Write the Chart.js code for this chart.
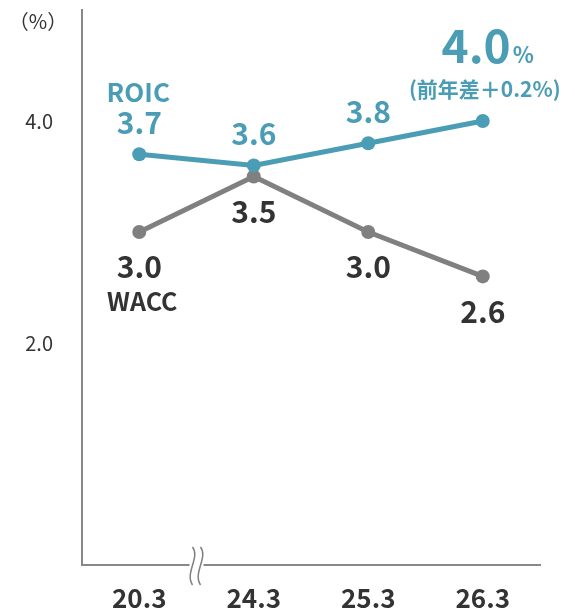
<!DOCTYPE html>
<html>
<head>
<meta charset="utf-8">
<script src="https://cdn.jsdelivr.net/npm/chart.js@4"></script>
<style>
  html, body { margin: 0; padding: 0; background: #fff; }
  #wrap { width: 575px; height: 608px; }
</style>
</head>
<body>
<div id="wrap"><canvas id="c"></canvas></div>
<script>
const FONT = '"Noto Sans CJK JP", "Noto Sans", sans-serif'
const TEAL = 'rgb(74, 157, 181)'
const GRAY = 'rgb(128, 128, 128)'
const DARK = '#333'

const categories = ['20.3', '24.3', '25.3', '26.3']
const roic = [3.7, 3.6, 3.8, 4.0]
const wacc = [3.0, 3.5, 3.0, 2.6]
const yTicks = [2.0, 4.0]
const roicName = 'ROIC'
const waccName = 'WACC'
const unitText = '（%）'
const diffText = '(前年差＋0.2%)'

// value labels, series names, headline and the axis break mark
const labelsPlugin = {
    id: 'labels',
    afterDraw(chart) {
        const ctx = chart.ctx
        const roicPts = chart.getDatasetMeta(0).data
        const waccPts = chart.getDatasetMeta(1).data
        ctx.save()
        ctx.textAlign = 'center'
        ctx.textBaseline = 'middle'

        // unit
        ctx.fillStyle = DARK
        ctx.font = '20px ' + FONT
        ctx.fillText(unitText, 38, 21)

        // ROIC values
        ctx.fillStyle = TEAL
        ctx.font = 'bold 30px ' + FONT
        roic.forEach((v, i) => {
            if (i === roic.length - 1) return
            ctx.fillText(v.toFixed(1), roicPts[i].x, roicPts[i].y - 32)
        })
        ctx.font = 'bold 26px ' + FONT
        ctx.fillText(roicName, roicPts[0].x - 1, roicPts[0].y - 62)

        // headline for the latest ROIC
        const last = roicPts[roic.length - 1]
        ctx.textBaseline = 'alphabetic'
        ctx.textAlign = 'right'
        ctx.font = 'bold 46px ' + FONT
        ctx.fillText(roic[roic.length - 1].toFixed(1), last.x + 28, last.y - 58)
        ctx.textAlign = 'left'
        ctx.font = 'bold 22px ' + FONT
        ctx.fillText('%', last.x + 30, last.y - 58)
        ctx.textAlign = 'center'
        ctx.textBaseline = 'middle'
        ctx.font = 'bold 21px ' + FONT
        ctx.fillText(diffText, last.x + 2, last.y - 32)

        // WACC values
        ctx.fillStyle = DARK
        ctx.font = 'bold 30px ' + FONT
        wacc.forEach((v, i) => {
            ctx.fillText(v.toFixed(1), waccPts[i].x, waccPts[i].y + 35)
        })
        ctx.font = 'bold 25px ' + FONT
        ctx.fillText(waccName, waccPts[0].x + 3, waccPts[0].y + 69)

        // break mark on the x axis
        const xs = chart.scales.x
        const bx = (xs.getPixelForValue(0) + xs.getPixelForValue(1)) / 2
        const by = chart.chartArea.bottom
        ctx.fillStyle = '#fff'
        ctx.fillRect(bx - 7, by - 4, 14, 8)
        ctx.strokeStyle = GRAY
        ctx.lineWidth = 1.5
        for (const dx of [-4, 4]) {
            ctx.beginPath()
            ctx.moveTo(bx + dx, by - 18)
            ctx.bezierCurveTo(bx + dx + 8, by - 8, bx + dx - 8, by + 8, bx + dx, by + 20)
            ctx.stroke()
        }
        ctx.restore()
    }
}

new Chart(document.getElementById('c'), {
    type: 'line',
    data: {
        labels: categories,
        datasets: [{
            label: roicName,
            data: roic,
            borderColor: TEAL,
            backgroundColor: TEAL,
            borderWidth: 5,
            pointRadius: 7,
            pointBorderWidth: 0
        }, {
            label: waccName,
            data: wacc,
            borderColor: GRAY,
            backgroundColor: GRAY,
            borderWidth: 5,
            pointRadius: 7,
            pointBorderWidth: 0
        }]
    },
    options: {
        responsive: true,
        maintainAspectRatio: false,
        animation: false,
        layout: { padding: { top: 10, right: 35, left: 0, bottom: 0 } },
        plugins: {
            legend: { display: false },
            tooltip: { enabled: false }
        },
        scales: {
            x: {
                offset: true,
                grid: { display: false, drawTicks: false },
                border: { color: '#888', width: 2 },
                ticks: {
                    color: DARK,
                    font: { family: FONT, size: 26, weight: 'bold' },
                    padding: 18
                },
                afterFit: (scale) => {
                    scale.height = 43
                    scale.paddingLeft = 0
                    scale.paddingRight = 0
                }
            },
            y: {
                min: 0,
                max: 5,
                grid: { display: false, drawTicks: false },
                border: { color: '#888', width: 2 },
                ticks: {
                    color: DARK,
                    font: { family: FONT, size: 20 },
                    padding: 29,
                    callback: (v) => v.toFixed(1)
                },
                afterBuildTicks: (scale) => {
                    scale.ticks = yTicks.map(v => ({ value: v }))
                },
                afterFit: (scale) => {
                    scale.width = 82
                    scale.paddingTop = 0
                    scale.paddingBottom = 0
                }
            }
        }
    },
    plugins: [labelsPlugin]
})
</script>
</body>
</html>
